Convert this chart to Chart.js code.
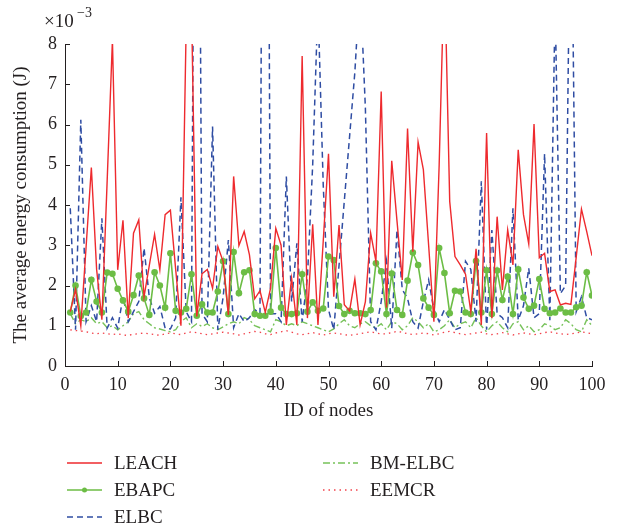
<!DOCTYPE html>
<html>
<head>
<meta charset="utf-8">
<script src="https://cdn.jsdelivr.net/npm/chart.js@4.4.0/dist/chart.umd.min.js"></script>
<style>
  html, body { margin: 0; padding: 0; background: #fff; }
  #wrap { width: 617px; height: 529px; }
</style>
</head>
<body>
<div id="wrap"><canvas id="myChart"></canvas></div>
<script>
const nodeIds = [
  1, 2, 3, 4, 5, 6, 7, 8, 9, 10, 11, 12, 13, 14, 15, 16, 17, 18, 19, 20,
  21, 22, 23, 24, 25, 26, 27, 28, 29, 30, 31, 32, 33, 34, 35, 36, 37, 38, 39, 40,
  41, 42, 43, 44, 45, 46, 47, 48, 49, 50, 51, 52, 53, 54, 55, 56, 57, 58, 59, 60,
  61, 62, 63, 64, 65, 66, 67, 68, 69, 70, 71, 72, 73, 74, 75, 76, 77, 78, 79, 80,
  81, 82, 83, 84, 85, 86, 87, 88, 89, 90, 91, 92, 93, 94, 95, 96, 97, 98, 99, 100
];

// values in 1e-3 J
const leach = [
  1.35, 1.9, 1.0, 2.95, 4.93, 2.4, 1.15, 4.6, 8.1, 2.39, 3.62, 1.19, 3.3, 3.63, 1.72, 2.5, 3.27, 2.39, 3.76, 3.87,
  2.4, 1.0, 8.5, 9.0, 1.23, 2.29, 2.4, 1.93, 2.97, 2.6, 1.27, 4.71, 2.99, 3.34, 2.76, 1.67, 1.87, 1.33, 1.93, 3.42,
  3.0, 1.02, 2.18, 1.02, 7.7, 1.19, 3.52, 1.02, 3.1, 5.27, 1.72, 3.5, 1.52, 1.37, 2.16, 1.02, 1.6, 3.3, 2.6, 6.82,
  1.45, 5.1, 3.6, 2.14, 5.9, 2.84, 5.56, 4.88, 3.0, 1.1, 5.0, 10, 4.09, 2.72, 2.51, 2.28, 1.35, 2.91, 1.02, 5.79,
  1.19, 3.71, 1.89, 3.38, 2.51, 5.37, 3.76, 3.03, 6.01, 2.69, 2.8, 1.85, 1.89, 1.52, 1.56, 1.53, 2.7, 3.9, 3.34, 2.74
];
const ebapc = [
  1.33, 2.0, 1.24, 1.33, 2.14, 1.6, 1.33, 2.32, 2.29, 1.92, 1.63, 1.35, 1.76, 2.25, 1.68, 1.27, 2.33, 2.0, 1.45, 2.8,
  1.37, 1.33, 1.42, 2.28, 1.25, 1.53, 1.33, 1.33, 1.85, 2.6, 1.29, 2.83, 1.81, 2.33, 2.38, 1.29, 1.25, 1.25, 1.35, 2.93,
  1.45, 1.29, 1.29, 1.31, 2.28, 1.35, 1.58, 1.37, 1.43, 2.72, 2.63, 1.49, 1.29, 1.37, 1.31, 1.31, 1.29, 1.39, 2.55, 2.35,
  1.29, 2.3, 1.39, 1.27, 2.12, 2.82, 2.51, 1.68, 1.45, 1.27, 2.93, 2.31, 1.31, 1.87, 1.85, 1.33, 1.29, 2.61, 1.33, 2.38,
  1.29, 2.37, 1.64, 2.22, 1.29, 2.4, 1.7, 1.42, 1.5, 2.16, 1.42, 1.31, 1.33, 1.43, 1.33, 1.33, 1.46, 1.5, 2.33, 1.75
];
const elbc = [
  3.92, 0.9, 6.12, 1.1, 1.5, 1.1, 3.67, 0.94, 1.2, 0.94, 1.72, 1.1, 1.35, 1.6, 2.93, 1.7, 1.31, 1.48, 0.94, 0.92,
  1.2, 4.19, 1.35, 1.1, 25, 1.3, 1.1, 5.95, 0.9, 1.7, 3.13, 0.95, 1.3, 1.1, 1.2, 1.4, 1.3, 30, 1.3, 1.3,
  1.1, 4.71, 1.6, 3.05, 1.1, 2.2, 5.0, 9.0, 4.5, 1.4, 0.9, 2.5, 4.1, 5.7, 7.3, 9.5, 6.4, 1.1, 0.9, 1.6,
  2.6, 0.94, 3.38, 1.9, 1.68, 1.1, 0.94, 1.6, 2.14, 1.4, 1.1, 1.4, 1.15, 0.9, 0.95, 2.6, 2.4, 1.1, 4.59, 0.9,
  3.38, 1.3, 1.2, 0.95, 3.92, 1.14, 1.5, 2.43, 1.2, 1.3, 5.27, 1.14, 9.0, 1.8, 2.0, 13, 1.35, 1.72, 1.2, 1.15
];
const bmElbc = [
  1.3, 1.05, 1.15, 1.1, 1.2, 1.05, 1.1, 0.95, 1.0, 0.9, 1.0, 1.1, 1.3, 1.35, 1.15, 1.05, 0.95, 0.92, 0.88, 0.85,
  0.9, 1.1, 1.2, 0.95, 1.05, 0.98, 1.05, 0.95, 0.9, 0.97, 1.05, 1.1, 1.05, 1.2, 1.15, 1.0, 0.95, 0.9, 0.85, 1.15,
  1.1, 1.0, 1.05, 1.0, 1.1, 1.05, 1.0, 0.95, 0.9, 0.85, 0.92, 1.05, 1.15, 1.0, 0.95, 1.05, 1.1, 1.0, 0.95, 1.05,
  0.9, 1.1, 1.05, 0.9, 1.0, 1.2, 1.1, 0.95, 1.05, 0.85, 0.9, 1.0, 1.15, 0.95, 1.05, 1.1, 0.95, 1.2, 1.0, 0.85,
  1.0, 1.1, 0.95, 0.85, 1.05, 1.1, 0.9, 1.0, 0.85, 0.9, 1.05, 1.0, 0.9, 0.95, 1.15, 1.05, 0.9, 0.85, 1.15, 1.0
];
const eemcr = [
  0.9, 0.88, 0.87, 0.85, 0.82, 0.8, 0.82, 0.8, 0.78, 0.8, 0.77, 0.76, 0.79, 0.8, 0.82, 0.8, 0.78, 0.76, 0.8, 0.82,
  0.8, 0.78, 0.82, 0.85, 0.83, 0.8, 0.78, 0.8, 0.82, 0.84, 0.82, 0.8, 0.77, 0.8, 0.83, 0.86, 0.84, 0.8, 0.78, 0.82,
  0.85, 0.88, 0.84, 0.8, 0.78, 0.8, 0.83, 0.8, 0.77, 0.8, 0.82, 0.8, 0.78, 0.76, 0.78, 0.8, 0.83, 0.85, 0.82, 0.8,
  0.8, 0.83, 0.86, 0.84, 0.8, 0.78, 0.8, 0.82, 0.8, 0.77, 0.8, 0.84, 0.86, 0.83, 0.8, 0.78, 0.8, 0.82, 0.84, 0.8,
  0.78, 0.8, 0.83, 0.8, 0.77, 0.8, 0.82, 0.8, 0.78, 0.8, 0.83, 0.85, 0.82, 0.8, 0.78, 0.8, 0.82, 0.85, 0.83, 0.8
];

const xTicks = [0, 10, 20, 30, 40, 50, 60, 70, 80, 90, 100];
const yTicks = [0, 1, 2, 3, 4, 5, 6, 7, 8];

const serif = '"Liberation Serif", "DejaVu Serif", serif';
const ink = '#231f20';

function pts(vals) {
  return nodeIds.map((id, i) => ({ x: id, y: vals[i] }));
}

const datasets = [
  { label: 'LEACH', data: pts(leach), borderColor: '#ee2a2e', borderWidth: 1.4, pointRadius: 0 },
  { label: 'EBAPC', data: pts(ebapc), borderColor: '#6cbd45', backgroundColor: '#6cbd45', borderWidth: 1.6,
    pointRadius: 3.3, pointBorderWidth: 0 },
  { label: 'ELBC', data: pts(elbc), borderColor: '#2f4da3', borderWidth: 1.5, borderDash: [6, 4], pointRadius: 0 },
  { label: 'BM-ELBC', data: pts(bmElbc), borderColor: '#77c25a', borderWidth: 1.4, borderDash: [7, 3, 2, 3], pointRadius: 0 },
  { label: 'EEMCR', data: pts(eemcr), borderColor: '#f2424b', borderWidth: 1.3, borderDash: [1.5, 4], pointRadius: 0 }
];

// inside tick marks, x10^-3 note and the two-column legend
const extras = {
  id: 'extras',
  afterDraw(chart) {
    const { ctx, chartArea: { left, bottom }, scales: { x, y } } = chart;
    ctx.save();
    ctx.strokeStyle = ink;
    ctx.lineWidth = 1;
    xTicks.forEach(v => {
      const px = Math.round(x.getPixelForValue(v)) + 0.5;
      ctx.beginPath(); ctx.moveTo(px, bottom); ctx.lineTo(px, bottom - 5); ctx.stroke();
    });
    yTicks.forEach(v => {
      const py = Math.round(y.getPixelForValue(v)) + 0.5;
      ctx.beginPath(); ctx.moveTo(left, py); ctx.lineTo(left + 5, py); ctx.stroke();
    });

    ctx.fillStyle = ink;
    ctx.textBaseline = 'alphabetic';
    ctx.font = '19px ' + serif;
    ctx.fillText('\u00d710', 44, 27);
    ctx.font = '14px ' + serif;
    ctx.fillText('\u22123', 77, 17);

    const slots = [[67, 463], [67, 490], [67, 517], [323, 463], [323, 490]];
    chart.data.datasets.forEach((ds, i) => {
      const [lx, ly] = slots[i];
      ctx.save();
      ctx.strokeStyle = ds.borderColor;
      ctx.lineWidth = ds.borderWidth;
      ctx.setLineDash(ds.borderDash || []);
      ctx.beginPath(); ctx.moveTo(lx, ly); ctx.lineTo(lx + 35, ly); ctx.stroke();
      if (ds.pointRadius) {
        ctx.fillStyle = ds.backgroundColor;
        ctx.beginPath(); ctx.arc(lx + 17.5, ly, 2.5, 0, Math.PI * 2); ctx.fill();
      }
      ctx.restore();
      ctx.fillStyle = ink;
      ctx.font = '19px ' + serif;
      ctx.textBaseline = 'middle';
      ctx.fillText(ds.label, lx + 47, ly + 1);
    });
    ctx.restore();
  }
};

const config = {
  type: 'line',
  data: { datasets: datasets },
  options: {
    responsive: true,
    maintainAspectRatio: false,
    animation: false,
    layout: { padding: { left: 0, top: 44, right: 25, bottom: 103 } },
    elements: { line: { tension: 0 } },
    plugins: { legend: { display: false }, tooltip: { enabled: false } },
    scales: {
      x: {
        type: 'linear', min: 0, max: 100,
        afterBuildTicks: s => { s.ticks = xTicks.map(v => ({ value: v })); },
        afterFit: s => { s.height = 60; },
        grid: { display: false, drawTicks: false },
        border: { display: true, color: ink, width: 1 },
        ticks: { color: ink, font: { family: serif, size: 18 }, padding: 8, maxRotation: 0 },
        title: { display: true, text: 'ID of nodes', color: ink, font: { family: serif, size: 19 },
          padding: { top: 0, bottom: 4 } }
      },
      y: {
        min: 0, max: 8,
        afterBuildTicks: s => { s.ticks = yTicks.map(v => ({ value: v })); },
        afterFit: s => { s.width = 65; },
        grid: { display: false, drawTicks: false },
        border: { display: true, color: ink, width: 1 },
        ticks: { color: ink, font: { family: serif, size: 18 }, padding: 8 },
        title: { display: true, text: 'The average energy consumption (J)', color: ink,
          font: { family: serif, size: 19 }, padding: { top: 10, bottom: 0 } }
      }
    }
  },
  plugins: [extras]
};

const myChart = new Chart(document.getElementById('myChart'), config);
</script>
</body>
</html>
